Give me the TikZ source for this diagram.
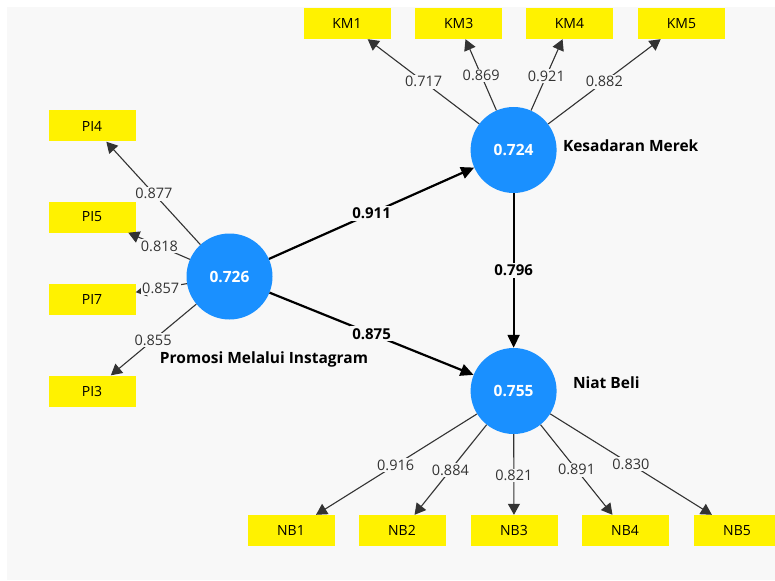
\documentclass[tikz,border=0pt]{standalone}
\usepackage{fontspec}
\setmainfont{Open Sans}
\usetikzlibrary{arrows.meta}

\definecolor{lvblue}{HTML}{1A90FF}
\definecolor{bggray}{HTML}{F8F8F8}
\definecolor{loadgray}{HTML}{333333}

\tikzset{
  ind/.style={fill=yellow, minimum width=87pt, minimum height=31pt, inner sep=0pt,
    font=\fontsize{14}{16}\selectfont},
  lv/.style={circle, fill=lvblue, minimum size=86pt, inner sep=0pt, text=white,
    font=\bfseries\fontsize{15.5}{17}\selectfont},
  lvname/.style={font=\bfseries\fontsize{15.5}{17}\selectfont},
  load/.style={draw=loadgray, line width=1.1pt, -{Triangle[length=11pt,width=12pt]}},
  strc/.style={draw=black, line width=2.2pt, -{Triangle[length=13pt,width=12pt]}},
  wt/.style={fill=bggray, inner sep=1.5pt, text=loadgray, font=\fontsize{14.5}{16}\selectfont},
  wtb/.style={fill=bggray, inner sep=2pt, font=\bfseries\fontsize{15}{17}\selectfont}
}

\begin{document}
\begin{tikzpicture}[x=1pt,y=-1pt]

\clip (0,0) rectangle (775,580);
\fill [white] (0,0) rectangle (775,580);
\fill [bggray] (7,7) rectangle (775,580);

% latent variables
\node [lv] (pmi) at (229.5,276.5) {0.726};
\node [lv] (km) at (513.6,150) {0.724};
\node [lv] (nb) at (513.6,391) {0.755};
\node [lvname] (pminame) at (264,359.6) {Promosi Melalui Instagram};
\node [lvname, anchor=west] (kmname) at (559.5,146) {Kesadaran Merek};
\node [lvname, anchor=west] (nbname) at (569.5,383) {Niat Beli};

% indicators
\foreach \n/\y in {PI4/126, PI5/217, PI7/299.5, PI3/391}
  \node [ind] (\n) at (92,\y) {\n};
\foreach \n/\x in {KM1/347, KM3/458.7, KM4/569.5, KM5/681.5}
  \node [ind] (\n) at (\x,23.5) {\n};
\foreach \n/\x in {NB1/291, NB2/402, NB3/514, NB4/625, NB5/737}
  \node [ind] (\n) at (\x,530.5) {\n};

% outer loadings
\foreach \b/\p/\v in {PI4/0.55/0.877, PI5/0.51/0.818, PI7/0.50/0.857, PI3/0.556/0.855} {
  \draw [load] (pmi) -- (\b);
  \path (pmi.center) -- (\b.center) node [wt, pos=\p] {\v};
}
\foreach \b/\p/\v in {KM1/0.54/0.717, KM3/0.59/0.869, KM4/0.585/0.921, KM5/0.54/0.882} {
  \draw [load] (km) -- (\b);
  \path (km.center) -- (\b.center) node [wt, pos=\p] {\v};
}
\foreach \b/\p/\v in {NB1/0.53/0.916, NB2/0.567/0.884, NB3/0.605/0.821, NB4/0.565/0.891, NB5/0.525/0.830} {
  \draw [load] (nb) -- (\b);
  \path (nb.center) -- (\b.center) node [wt, pos=\p] {\v};
}

% path coefficients
\draw [strc] (pmi) -- (km);
\path (pmi.center) -- (km.center) node [wtb, pos=0.5] {0.911};
\draw [strc] (pmi) -- (nb);
\path (pmi.center) -- (nb.center) node [wtb, pos=0.5] {0.875};
\draw [strc] (km) -- (nb);
\path (km.center) -- (nb.center) node [wtb, pos=0.5] {0.796};

\end{tikzpicture}
\end{document}
